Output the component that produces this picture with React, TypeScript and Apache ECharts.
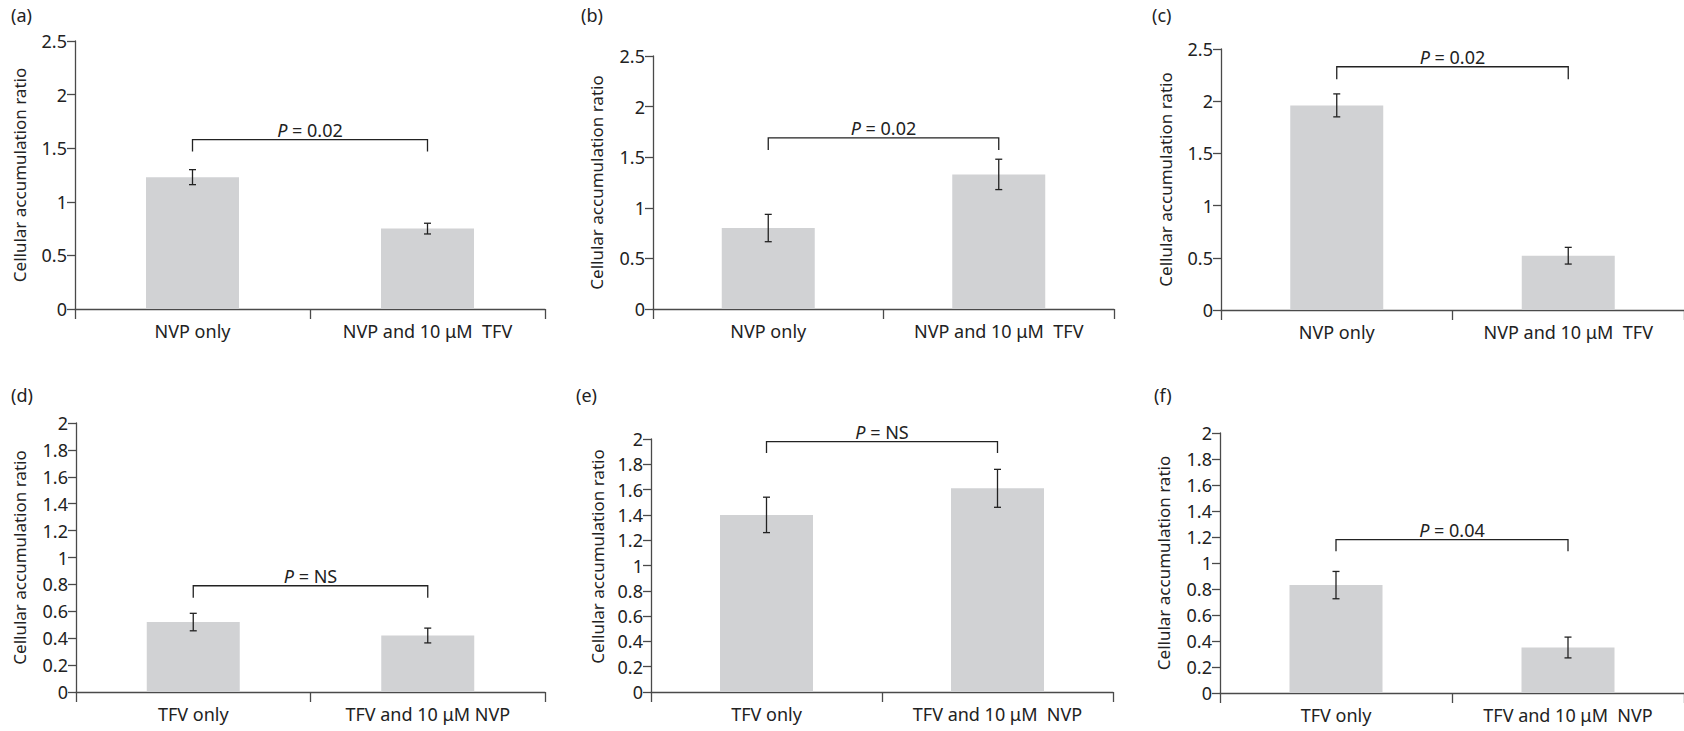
import React, { useEffect, useRef } from "react";
import * as echarts from "echarts";

// ---------- data ----------
const panelLabels = ["(a)", "(b)", "(c)", "(d)", "(e)", "(f)"];
const catsNVP = ["NVP only", "NVP and 10 μM\u00a0 TFV"];
const catsTFVd = ["TFV only", "TFV and 10 μM NVP"];
const catsTFV = ["TFV only", "TFV and 10 μM\u00a0 NVP"];
const categories = [catsNVP, catsNVP, catsNVP, catsTFVd, catsTFV, catsTFV];

const meansA = [1.23, 0.75];
const errA = [0.07, 0.05];
const meansB = [0.8, 1.33];
const errB = [0.135, 0.15];
const meansC = [1.96, 0.52];
const errC = [0.11, 0.08];
const meansD = [0.52, 0.42];
const errD = [0.065, 0.055];
const meansE = [1.4, 1.61];
const errE = [0.14, 0.15];
const meansF = [0.83, 0.35];
const errF = [0.105, 0.08];
const means = [meansA, meansB, meansC, meansD, meansE, meansF];
const errs = [errA, errB, errC, errD, errE, errF];

const pValues = ["0.02", "0.02", "0.02", "NS", "NS", "0.04"];
const bracketTop = [1.58, 1.69, 2.33, 0.79, 1.98, 1.18];
const bracketEnd = [1.47, 1.57, 2.21, 0.7, 1.89, 1.09];

const yMax = [2.5, 2.5, 2.5, 2, 2, 2];
const yInterval = [0.5, 0.5, 0.5, 0.2, 0.2, 0.2];
const yTitle = "Cellular accumulation ratio";

// ---------- layout / style ----------
const layout = [
  { left: 75, top: 41, width: 470, height: 268, gap: 47, shift: 0, lx: 11, ly: 6 },
  { left: 653, top: 56, width: 461, height: 253, gap: 48, shift: 0, lx: 581, ly: 6 },
  { left: 1221, top: 49, width: 464, height: 261, gap: 47, shift: 0, lx: 1152, ly: 6 },
  { left: 76, top: 423, width: 469, height: 269, gap: 48, shift: 0, lx: 11, ly: 386 },
  { left: 651, top: 439, width: 462, height: 253, gap: 45, shift: 18, lx: 576, ly: 386 },
  { left: 1220, top: 433, width: 464, height: 260, gap: 48, shift: 0, lx: 1154, ly: 386 },
];
const FONT = "Noto Sans";
const TEXT = "#222222";
const AXIS = "#4a4a4a";
const BAR = "#d1d2d4";
const FS_TICK = 18;
const FS_CAT = 18;
const FS_NAME = 17;
const FS_P = 18;

function buildOption() {
  const grid: any[] = [];
  const xAxis: any[] = [];
  const yAxis: any[] = [];
  const series: any[] = [];
  const graphic: any[] = [];

  layout.forEach((L, i) => {
    grid.push({ left: L.left, top: L.top, width: L.width, height: L.height, containLabel: false });
    xAxis.push({
      type: "category",
      gridIndex: i,
      data: categories[i],
      boundaryGap: true,
      axisLine: { show: true, lineStyle: { color: AXIS, width: 1.3 } },
      axisTick: { show: true, length: 10, alignWithLabel: false, lineStyle: { color: AXIS, width: 1.3 } },
      axisLabel: { color: TEXT, fontSize: FS_CAT, fontFamily: FONT, margin: 13, interval: 0 },
      splitLine: { show: false },
    });
    yAxis.push({
      type: "value",
      gridIndex: i,
      min: 0,
      max: yMax[i],
      interval: yInterval[i],
      name: yTitle,
      nameLocation: "middle",
      nameGap: L.gap,
      nameRotate: 90,
      nameTextStyle: {
        color: TEXT,
        fontSize: FS_NAME,
        fontFamily: FONT,
        padding: L.shift ? [0, 0, 0, L.shift] : 0,
      },
      axisLine: { show: true, lineStyle: { color: AXIS, width: 1.3 } },
      axisTick: { show: true, length: 8, lineStyle: { color: AXIS, width: 1.3 } },
      axisLabel: { color: TEXT, fontSize: FS_TICK, fontFamily: FONT, margin: 8 },
      splitLine: { show: false },
    });
    series.push({
      type: "bar",
      xAxisIndex: i,
      yAxisIndex: i,
      data: means[i],
      barWidth: 93,
      itemStyle: { color: BAR },
      silent: true,
      z: 2,
    });
    series.push({
      type: "custom",
      xAxisIndex: i,
      yAxisIndex: i,
      clip: false,
      silent: true,
      z: 5,
      data: means[i].map((m, j) => [j, m - errs[i][j], m + errs[i][j]]),
      renderItem: (params: any, api: any) => {
        const x = api.value(0);
        const lo = api.coord([x, api.value(1)]);
        const hi = api.coord([x, api.value(2)]);
        const c = 3.5;
        const st = { stroke: "#222", lineWidth: 1.3 };
        return {
          type: "group",
          children: [
            { type: "line", shape: { x1: lo[0], y1: lo[1], x2: hi[0], y2: hi[1] }, style: st },
            { type: "line", shape: { x1: lo[0] - c, y1: lo[1], x2: lo[0] + c, y2: lo[1] }, style: st },
            { type: "line", shape: { x1: hi[0] - c, y1: hi[1], x2: hi[0] + c, y2: hi[1] }, style: st },
          ],
        };
      },
    });
    series.push({
      type: "custom",
      xAxisIndex: i,
      yAxisIndex: i,
      clip: false,
      silent: true,
      z: 5,
      data: [[0, 1, bracketTop[i], bracketEnd[i]]],
      renderItem: (params: any, api: any) => {
        const a0 = api.coord([api.value(0), api.value(3)]);
        const a1 = api.coord([api.value(0), api.value(2)]);
        const b1 = api.coord([api.value(1), api.value(2)]);
        const b0 = api.coord([api.value(1), api.value(3)]);
        return {
          type: "group",
          children: [
            {
              type: "polyline",
              shape: { points: [a0, a1, b1, b0] },
              style: { stroke: "#222", lineWidth: 1.3, fill: null },
            },
            {
              type: "text",
              x: (a1[0] + b1[0]) / 2,
              y: a1[1] - 1,
              style: {
                text: "{i|P} = " + pValues[i],
                fontSize: FS_P,
                fontFamily: FONT,
                fill: TEXT,
                align: "center",
                verticalAlign: "bottom",
                rich: {
                  i: { fontStyle: "italic", fontSize: FS_P, fontFamily: FONT, fill: TEXT },
                },
              },
            },
          ],
        };
      },
    });
    graphic.push({
      type: "text",
      left: L.lx,
      top: L.ly,
      style: { text: panelLabels[i], fontSize: 18, fontFamily: FONT, fill: TEXT },
    });
  });

  return {
    animation: false,
    backgroundColor: "#ffffff",
    grid,
    xAxis,
    yAxis,
    series,
    graphic,
  };
}

export default function App() {
  const ref = useRef<HTMLDivElement>(null);
  useEffect(() => {
    if (!ref.current) return;
    const chart = echarts.init(ref.current, undefined, { renderer: "svg" });
    chart.setOption(buildOption() as any);
    return () => chart.dispose();
  }, []);
  return (
    <div
      ref={ref}
      style={{ position: "absolute", left: 0, top: 0, width: 1684, height: 731, background: "#fff" }}
    />
  );
}
